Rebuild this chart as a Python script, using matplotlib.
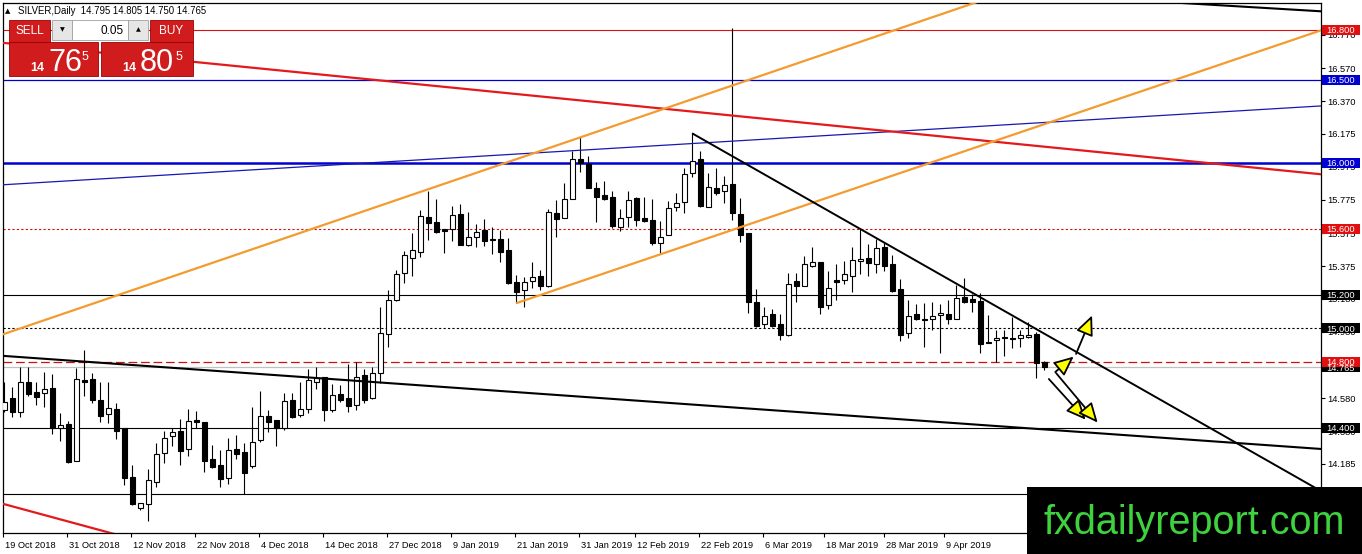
import numpy as np
import matplotlib
matplotlib.use('Agg')
import matplotlib.pyplot as plt
from matplotlib.patches import Rectangle, FancyArrowPatch
from matplotlib import transforms as mtrans

plt.rcParams['font.family'] = ['Liberation Sans', 'DejaVu Sans']

# ---------------- data (SILVER, Daily) ----------------
opens = [14.508, 14.579, 14.498, 14.675, 14.615, 14.613, 14.639, 14.398, 14.424, 14.202,
         14.689, 14.695, 14.569, 14.482, 14.514, 14.402, 14.106, 13.915, 13.939, 14.076,
         14.247, 14.353, 14.383, 14.271, 14.448, 14.436, 14.213, 14.175, 14.096, 14.273,
         14.257, 14.172, 14.327, 14.472, 14.448, 14.398, 14.569, 14.478, 14.512, 14.679,
         14.705, 14.508, 14.605, 14.579, 14.538, 14.719, 14.579, 14.733, 14.965, 15.172,
         15.333, 15.423, 15.463, 15.670, 15.640, 15.598, 15.598, 15.690, 15.503, 15.553,
         15.594, 15.540, 15.538, 15.473, 15.278, 15.232, 15.288, 15.316, 15.258, 15.695,
         15.664, 15.781, 16.020, 15.990, 15.845, 15.803, 15.791, 15.614, 15.670, 15.785,
         15.664, 15.654, 15.514, 15.564, 15.731, 15.761, 15.936, 16.020, 15.734, 15.845,
         15.829, 15.871, 15.688, 15.574, 15.158, 15.025, 15.085, 15.027, 14.961, 15.286,
         15.258, 15.378, 15.399, 15.141, 15.292, 15.292, 15.318, 15.407, 15.423, 15.387,
         15.489, 15.387, 15.236, 14.971, 15.085, 15.057, 15.055, 15.079, 15.085, 15.057,
         15.188, 15.176, 15.168, 14.920, 14.930, 14.948, 14.942, 14.940, 14.946, 14.967,
         14.795]
highs = [14.679, 14.649, 14.769, 14.769, 14.679, 14.736, 14.725, 14.488, 14.442, 14.763,
         14.870, 14.730, 14.679, 14.675, 14.552, 14.402, 14.176, 13.945, 14.152, 14.307,
         14.383, 14.398, 14.452, 14.512, 14.502, 14.436, 14.297, 14.267, 14.337, 14.355,
         14.309, 14.528, 14.625, 14.508, 14.448, 14.609, 14.609, 14.675, 14.754, 14.766,
         14.709, 14.665, 14.659, 14.786, 14.799, 14.754, 14.766, 15.131, 15.232, 15.353,
         15.469, 15.574, 15.714, 15.831, 15.781, 15.598, 15.739, 15.751, 15.701, 15.630,
         15.658, 15.610, 15.594, 15.544, 15.322, 15.312, 15.399, 15.353, 15.719, 15.775,
         15.879, 16.072, 16.153, 16.040, 15.885, 15.889, 15.829, 15.719, 15.829, 15.795,
         15.795, 15.781, 15.648, 15.771, 15.819, 15.970, 16.177, 16.072, 15.936, 15.966,
         15.919, 16.812, 15.785, 15.574, 15.236, 15.128, 15.117, 15.085, 15.333, 15.333,
         15.437, 15.493, 15.399, 15.348, 15.387, 15.407, 15.493, 15.598, 15.508, 15.538,
         15.514, 15.443, 15.296, 15.172, 15.146, 15.155, 15.158, 15.146, 15.172, 15.262,
         15.302, 15.206, 15.216, 15.081, 14.991, 14.991, 15.071, 14.991, 15.041, 14.981,
         14.805]
lows = [14.498, 14.468, 14.468, 14.593, 14.538, 14.528, 14.363, 14.323, 14.190, 14.199,
        14.593, 14.552, 14.438, 14.432, 14.333, 14.056, 13.935, 13.905, 13.839, 14.046,
        14.190, 14.291, 14.176, 14.231, 14.398, 14.136, 14.156, 14.046, 14.062, 14.213,
        14.000, 14.156, 14.317, 14.377, 14.293, 14.387, 14.458, 14.468, 14.492, 14.633,
        14.444, 14.498, 14.558, 14.498, 14.508, 14.552, 14.573, 14.669, 14.886, 15.168,
        15.276, 15.316, 15.433, 15.534, 15.574, 15.457, 15.529, 15.503, 15.499, 15.493,
        15.497, 15.449, 15.403, 15.268, 15.152, 15.131, 15.242, 15.232, 15.252, 15.553,
        15.664, 15.781, 15.945, 15.845, 15.640, 15.775, 15.604, 15.590, 15.614, 15.618,
        15.644, 15.503, 15.453, 15.564, 15.710, 15.698, 15.912, 15.734, 15.731, 15.805,
        15.755, 15.654, 15.523, 15.095, 15.011, 15.001, 15.011, 14.930, 14.956, 15.161,
        15.256, 15.372, 15.085, 15.116, 15.172, 15.266, 15.222, 15.327, 15.316, 15.333,
        15.347, 15.218, 14.926, 14.941, 15.051, 14.886, 14.991, 14.854, 15.027, 15.055,
        15.155, 15.101, 14.850, 14.910, 14.799, 14.834, 14.884, 14.886, 14.944, 14.699,
        14.750]
closes = [14.558, 14.498, 14.675, 14.605, 14.588, 14.633, 14.398, 14.416, 14.193, 14.693,
          14.679, 14.569, 14.474, 14.518, 14.383, 14.096, 13.941, 13.945, 14.086, 14.241,
          14.337, 14.374, 14.263, 14.442, 14.438, 14.202, 14.166, 14.090, 14.267, 14.245,
          14.126, 14.313, 14.472, 14.438, 14.398, 14.562, 14.468, 14.512, 14.689, 14.699,
          14.508, 14.599, 14.569, 14.534, 14.709, 14.569, 14.733, 14.971, 15.172, 15.327,
          15.441, 15.473, 15.678, 15.638, 15.583, 15.590, 15.684, 15.503, 15.550, 15.583,
          15.529, 15.532, 15.463, 15.272, 15.222, 15.282, 15.309, 15.258, 15.701, 15.658,
          15.779, 16.020, 16.000, 15.845, 15.795, 15.783, 15.618, 15.668, 15.775, 15.654,
          15.648, 15.517, 15.553, 15.725, 15.758, 15.930, 16.012, 15.739, 15.855, 15.819,
          15.865, 15.694, 15.564, 15.161, 15.015, 15.077, 15.015, 14.961, 15.266, 15.258,
          15.387, 15.403, 15.131, 15.242, 15.282, 15.327, 15.413, 15.419, 15.393, 15.483,
          15.378, 15.228, 14.961, 15.077, 15.055, 15.051, 15.075, 15.091, 15.055, 15.182,
          15.161, 15.161, 14.906, 14.914, 14.942, 14.942, 14.938, 14.960, 14.960, 14.790,
          14.765]

date_labels = ['19 Oct 2018', '31 Oct 2018', '12 Nov 2018', '22 Nov 2018', '4 Dec 2018',
               '14 Dec 2018', '27 Dec 2018', '9 Jan 2019', '21 Jan 2019', '31 Jan 2019',
               '12 Feb 2019', '22 Feb 2019', '6 Mar 2019', '18 Mar 2019', '28 Mar 2019',
               '9 Apr 2019']
date_label_bars = [0, 8, 16, 24, 32, 40, 48, 56, 64, 72, 79, 87, 95, 102.6, 110.2, 117.7]

ytick_values = [16.770, 16.570, 16.370, 16.175, 15.975, 15.775, 15.575, 15.375,
                15.180, 14.980, 14.785, 14.580, 14.380, 14.185, 13.985]

# horizontal level lines
h_levels = [16.800, 16.500, 16.000, 15.600, 15.200, 15.000, 14.800, 14.765, 14.400, 14.000]
h_label_colors = ['#e01010', '#0000d0', '#0000d0', '#e01010', '#000000', '#000000',
                  '#e01010', '#000000', '#000000', None]

# trend lines: two anchors each (bar index, price)
orange_upper = [(0, 14.967), (100, 16.613)]
orange_lower = [(64, 15.152), (92, 15.610)]
red_upper = [(0, 16.722), (164.6, 15.930)]
red_lower = [(0, 13.940), (13, 13.770)]
blue_thin = [(0, 15.867), (164.6, 16.342)]
black_long = [(0, 14.834), (164.6, 14.273)]
black_trend = [(86, 16.177), (133.25, 14.880)]
black_top = [(147.25, 16.963), (164.6, 16.913)]

# arrows (start -> end) in (bar index, price)
arrows = [((131.4, 14.737), (133.7, 14.830)),
          ((134.0, 14.846), (136.0, 15.078)),
          ((130.6, 14.695), (135.2, 14.450)),
          ((131.5, 14.731), (136.7, 14.432))]

header = 'SILVER,Daily  14.795 14.805 14.750 14.765'

# ---------------- figure ----------------
W, H = 1362, 554
fig = plt.figure(figsize=(W / 100, H / 100), dpi=100)
fig.patch.set_facecolor('white')
ax = fig.add_axes([3 / W, (H - 533) / H, 1318 / W, 530 / H])
ax.set_facecolor('white')
XMIN, XMAX = -0.125, 164.625
ax.set_xlim(XMIN, XMAX)
ax.set_ylim(13.766, 16.963)
for s in ax.spines.values():
    s.set_linewidth(0.9)
    s.set_color('black')

# horizontal lines
h_styles = [('#e01010', 0.8, '-'), ('#0000d0', 0.9, '-'), ('#0000d0', 1.8, '-'),
            ('#d01010', 0.8, (0, (2, 2))), ('#000000', 0.8, '-'), ('#000000', 0.8, (0, (2, 2))),
            ('#d01010', 0.9, (0, (7, 3))), ('#c0c0c0', 0.9, '-'), ('#000000', 0.8, '-'),
            ('#000000', 0.8, '-')]
for lvl, (col, lw, ls) in zip(h_levels, h_styles):
    ax.axhline(lvl, color=col, lw=lw, ls=ls, zorder=1.5)

# candles
x = np.arange(len(opens))
o = np.array(opens); hi = np.array(highs); lo = np.array(lows); c = np.array(closes)
up = c >= o
ax.vlines(x, lo, hi, color='black', lw=0.8, zorder=2)
bb = np.minimum(o, c)
bh = np.maximum(np.abs(c - o), 0.003)
ax.bar(x[up], bh[up], bottom=bb[up], width=0.62, color='white', edgecolor='black', lw=0.8, zorder=3)
ax.bar(x[~up], bh[~up], bottom=bb[~up], width=0.62, color='black', edgecolor='black', lw=0.8, zorder=3)


def line_through(anchors, x_from, x_to, **kw):
    (x0, y0), (x1, y1) = anchors
    k = (y1 - y0) / (x1 - x0)
    xs = np.array([x_from, x_to])
    ax.plot(xs, y0 + k * (xs - x0), solid_capstyle='butt', **kw)


line_through(blue_thin, XMIN - 1, XMAX + 1, color='#1818b0', lw=0.9, zorder=4)
line_through(red_upper, XMIN - 1, XMAX + 1, color='#e3191b', lw=1.6, zorder=4)
line_through(red_lower, XMIN - 1, 30, color='#e3191b', lw=1.6, zorder=4)
line_through(orange_upper, XMIN - 1, 140, color='#f49b30', lw=1.6, zorder=4)
line_through(orange_lower, 64, XMAX + 1, color='#f49b30', lw=1.6, zorder=4)
line_through(black_long, XMIN - 1, XMAX + 1, color='black', lw=1.5, zorder=4)
line_through(black_trend, 86, XMAX + 1, color='black', lw=1.4, zorder=4)
line_through(black_top, 147.25, XMAX + 1, color='black', lw=1.5, zorder=4)

for (p0, p1) in arrows:
    ar = FancyArrowPatch(p0, p1, arrowstyle='-|>,head_length=0.6,head_width=0.27',
                         mutation_scale=20, facecolor='#ffff00', edgecolor='black',
                         lw=1.3, shrinkA=0, shrinkB=0, zorder=6)
    ax.add_patch(ar)

# axes ticks
ax.yaxis.tick_right()
ax.set_yticks(ytick_values)
ax.set_yticklabels([f'{v:.3f}' for v in ytick_values])
ax.tick_params(axis='y', direction='out', length=3, width=0.8, pad=1.5, labelsize=6.7)
ax.set_xticks(np.array(date_label_bars) - 0.15)
ax.set_xticklabels(date_labels, ha='left')
ax.tick_params(axis='x', direction='out', length=3, width=0.8, pad=2.5, labelsize=6.7)
offset = mtrans.ScaledTranslation(2 / 100, 0, fig.dpi_scale_trans)
for lab in ax.get_xticklabels():
    lab.set_transform(lab.get_transform() + offset)

# price label boxes on right axis
btrans = mtrans.blended_transform_factory(ax.transAxes, ax.transData)
bx0 = (1322 - 3) / 1318
bx1 = (1360 - 3) / 1318
bhh = 10 / 165.8
order = [0, 1, 2, 3, 4, 5, 7, 6, 8]
for i in order:
    lvl, fc = h_levels[i], h_label_colors[i]
    if fc is None:
        continue
    ax.add_patch(Rectangle((bx0, lvl - bhh / 2), bx1 - bx0, bhh, transform=btrans,
                           facecolor=fc, edgecolor='none', clip_on=False, zorder=10))
    ax.text((1326 - 3) / 1318, lvl - 0.004, f'{lvl:.3f}', transform=btrans, color='white',
            fontsize=6.7, va='center', ha='left', clip_on=False, zorder=11)

# header text
fig.text(5 / W, 1 - 11 / H, '\u25b2', fontsize=5, va='center', ha='left',
         family=['DejaVu Sans'])
fig.text(18 / W, 1 - 11 / H, header, fontsize=6.9, va='center', ha='left')


# ---------------- trade panel ----------------
def frect(x0, y0, x1, y1, **kw):
    r = Rectangle((x0 / W, 1 - y1 / H), (x1 - x0) / W, (y1 - y0) / H,
                  transform=fig.transFigure, **kw)
    fig.add_artist(r)


def ftext(xp, yp, s, **kw):
    fig.text(xp / W, 1 - yp / H, s, **kw)


red = '#d01c1c'
frect(9, 20, 50, 42, facecolor=red, edgecolor='#9a0000', lw=0.6, zorder=8)
frect(150, 20, 193, 42, facecolor=red, edgecolor='#9a0000', lw=0.6, zorder=8)
frect(9, 42, 98, 76, facecolor=red, edgecolor='#9a0000', lw=0.6, zorder=8)
frect(101, 42, 193, 76, facecolor=red, edgecolor='#9a0000', lw=0.6, zorder=8)
frect(52, 20, 72, 40, facecolor='#e6e6e6', edgecolor='#a0a0a0', lw=0.6, zorder=8)
frect(72, 20, 128, 40, facecolor='white', edgecolor='#a0a0a0', lw=0.6, zorder=8)
frect(128, 20, 148, 40, facecolor='#e6e6e6', edgecolor='#a0a0a0', lw=0.6, zorder=8)
ftext(29.5, 31, 'SELL', color='white', fontsize=8.5, ha='center', va='center', zorder=9)
ftext(171.5, 31, 'BUY', color='white', fontsize=8.5, ha='center', va='center', zorder=9)
ftext(124, 31, '0.05', color='black', fontsize=8.5, ha='right', va='center', zorder=9)
ftext(62, 30, '\u25bc', color='black', fontsize=4.5, ha='center', va='center', zorder=9,
      family=['DejaVu Sans'])
ftext(138, 30, '\u25b2', color='black', fontsize=4.5, ha='center', va='center', zorder=9,
      family=['DejaVu Sans'])
ftext(30, 71, '14', color='white', fontsize=9, ha='left', va='baseline', zorder=9, weight='bold')
ftext(48, 71, '76', color='white', fontsize=22, ha='left', va='baseline', zorder=9)
ftext(82, 60, '5', color='white', fontsize=9, ha='left', va='baseline', zorder=9)
ftext(122, 71, '14', color='white', fontsize=9, ha='left', va='baseline', zorder=9, weight='bold')
ftext(140, 71, '80', color='white', fontsize=22, ha='left', va='baseline', zorder=9)
ftext(176, 60, '5', color='white', fontsize=9, ha='left', va='baseline', zorder=9)

# ---------------- watermark banner ----------------
frect(1027, 487, 1362, 554, facecolor='black', edgecolor='none', zorder=20)
ftext(1194, 534, 'fxdailyreport.com', color='#3fd23f', fontsize=28.5, ha='center',
      va='baseline', zorder=21)

fig.savefig('out.png', dpi=100)
